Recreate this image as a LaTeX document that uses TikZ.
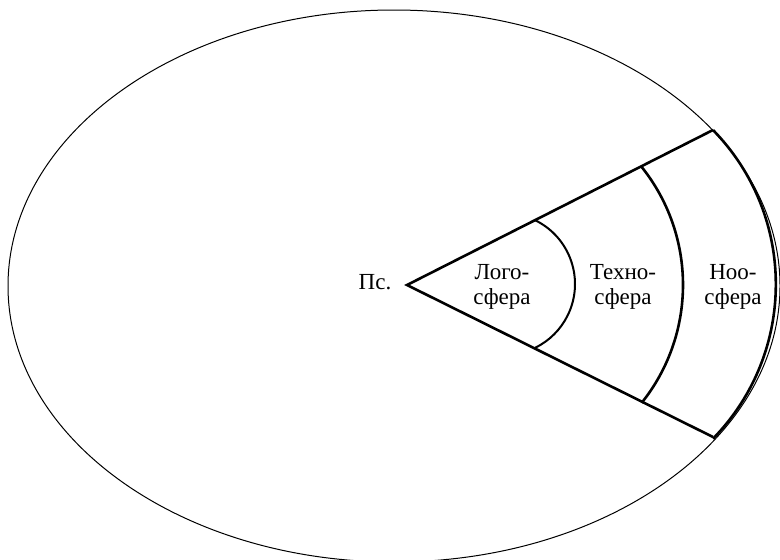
\documentclass[tikz,border=0pt]{standalone}
\usepackage{fontspec}
\setmainfont{Liberation Serif}
\usepackage{tikz}

\begin{document}
\begin{tikzpicture}[x=0.5pt,y=0.5pt,
  sfera/.style={align=center,font=\fontsize{11.5}{12.5}\selectfont,inner sep=0pt},
  rand/.style={line width=1.3pt}]
\useasboundingbox (0,0) rectangle (780,559);

%% the big ellipse %%%%%%%
\draw[line width=0.5pt] (394,273) ellipse [x radius=386, y radius=276];

%% the wedge (x , y) %%%%%%%
\coordinate (apex) at (407,274);
\coordinate (oben) at (713,429);
\coordinate (unten) at (713,122);
\draw[rand, line join=miter] (oben) -- (apex) -- (unten);

%% three arcs, each from the upper line to the lower one %%%%
\coordinate (logoA) at (535.1,338.8);
\coordinate (technoA) at (641.7,392);
\coordinate (nooA) at (oben);
\draw[line width=1pt] (logoA) arc[start angle=64, end angle=-64, radius=71];
\draw[rand] (technoA) arc[start angle=38.6, end angle=-38.6, radius=189];
\draw[rand] (nooA) arc[start angle=44.3, end angle=-44.3, radius=221];

%% texts
\node[sfera] (ps) at (375,277) {Пс.};
\node[sfera] (logo) at (502,272) {Лого-\\сфера};
\node[sfera] (techno) at (623,272) {Техно-\\сфера};
\node[sfera] (noo) at (733,272) {Ноо-\\сфера};
\end{tikzpicture}
\end{document}
